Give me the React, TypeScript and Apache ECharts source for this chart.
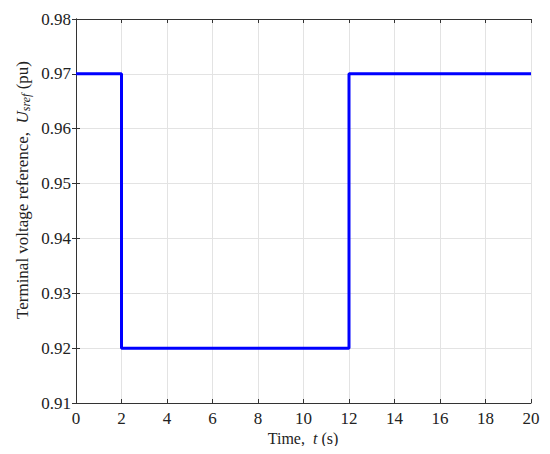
import React, { useEffect, useRef } from "react";
import * as echarts from "echarts";

const timeValues = [0, 2, 2, 12, 12, 20];
const voltageValues = [0.97, 0.97, 0.92, 0.92, 0.97, 0.97];
const xTicks = [0, 2, 4, 6, 8, 10, 12, 14, 16, 18, 20];
const yTicks = [0.91, 0.92, 0.93, 0.94, 0.95, 0.96, 0.97, 0.98];

const FONT = "Liberation Serif";

export default function App() {
  const ref = useRef<HTMLDivElement>(null);
  useEffect(() => {
    if (!ref.current) return;
    const chart = echarts.init(ref.current, undefined, { renderer: "svg" });
    const axisLine = { show: true, lineStyle: { color: "#333", width: 1 } };
    const tick = { show: true, inside: true, length: 4, lineStyle: { color: "#333" } };
    chart.setOption({
      animation: false,
      backgroundColor: "#fff",
      textStyle: { fontFamily: FONT },
      grid: { left: 76, right: 19, top: 19, bottom: 51, containLabel: false },
      graphic: [
        {
          type: "text",
          x: 22,
          y: 190,
          rotation: Math.PI / 2,
          style: {
            text: "{n|Terminal voltage reference,  }{i|U}{s|sref}{n| (pu)}",
            align: "center",
            verticalAlign: "middle",
            fontFamily: FONT,
            fontSize: 17,
            rich: {
              n: { fontFamily: FONT, fontSize: 17, fill: "#222" },
              i: { fontFamily: FONT, fontSize: 17, fill: "#222", fontStyle: "italic" },
              s: {
                fontFamily: FONT,
                fontSize: 12,
                fill: "#222",
                fontStyle: "italic",
                verticalAlign: "bottom",
                padding: [8, 0, 0, 0],
              },
            },
          },
        },
        {
          type: "text",
          x: 303,
          y: 438,
          style: {
            text: "{n|Time,  }{i|t}{n| (s)}",
            align: "center",
            verticalAlign: "middle",
            fontFamily: FONT,
            fontSize: 16,
            rich: {
              n: { fontFamily: FONT, fontSize: 16, fill: "#222", lineHeight: 16 },
              i: { fontFamily: FONT, fontSize: 16, fill: "#222", fontStyle: "italic", lineHeight: 16 },
            },
          },
        },
      ],
      xAxis: [
        {
          type: "value",
          min: xTicks[0],
          max: xTicks[xTicks.length - 1],
          interval: 2,
          axisLine,
          axisTick: tick,
          axisLabel: { color: "#222", fontFamily: FONT, fontSize: 17, margin: 7, lineHeight: 16 },
          splitLine: { show: true, lineStyle: { color: "#e3e3e3", width: 1 } },
        },
        {
          type: "value",
          position: "top",
          min: xTicks[0],
          max: xTicks[xTicks.length - 1],
          interval: 2,
          axisLine,
          axisTick: tick,
          axisLabel: { show: false },
          splitLine: { show: false },
        },
      ],
      yAxis: [
        {
          type: "value",
          min: yTicks[0],
          max: yTicks[yTicks.length - 1],
          interval: 0.01,
          axisLine,
          axisTick: tick,
          axisLabel: {
            color: "#222",
            fontFamily: FONT,
            fontSize: 17,
            margin: 5,
            formatter: (v: number) => v.toFixed(2),
          },
          splitLine: { show: true, lineStyle: { color: "#e3e3e3", width: 1 } },
        },
        {
          type: "value",
          position: "right",
          min: yTicks[0],
          max: yTicks[yTicks.length - 1],
          interval: 0.01,
          axisLine,
          axisTick: tick,
          axisLabel: { show: false },
          splitLine: { show: false },
        },
      ],
      series: [
        {
          type: "line",
          data: timeValues.map((t, i) => [t, voltageValues[i]]),
          showSymbol: false,
          lineStyle: { color: "#0000ff", width: 3 },
          z: 5,
        },
      ],
    });
    return () => chart.dispose();
  }, []);
  return <div ref={ref} style={{ width: 550, height: 454, margin: -8 }} />;
}
